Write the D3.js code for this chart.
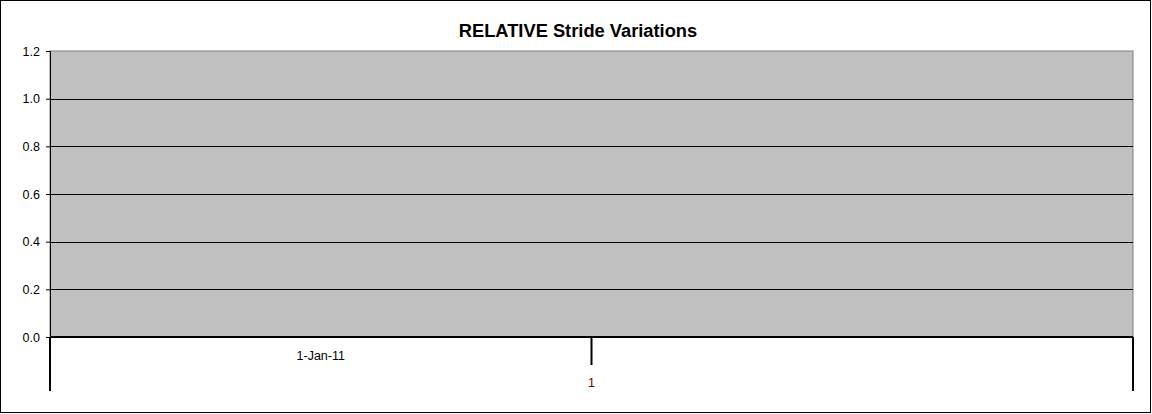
<!DOCTYPE html>
<html>
<head>
<meta charset="utf-8">
<script src="https://cdn.jsdelivr.net/npm/d3@7"></script>
<style>
  body { margin: 0; background: #fff; }
  svg { display: block; font-family: 'Liberation Sans', Arial, sans-serif; }
</style>
</head>
<body>
<div id="chart"></div>
<script>
// chart data
const title = 'RELATIVE Stride Variations';
const categories = ['1-Jan-11', ''];
const groupLabels = ['1'];
const strideValues = [null, null]; // no points plotted in the original
const yTicks = [0, 0.2, 0.4, 0.6, 0.8, 1.0, 1.2];

const W = 1152, H = 414;
const plot = { left: 50, right: 1133, top: 51, bottom: 337 };

const svg = d3.select('#chart')
  .append('svg')
  .attr('width', W)
  .attr('height', H);

// outer chart border
svg.append('rect')
  .attr('x', 0.5).attr('y', 0.5)
  .attr('width', 1150).attr('height', 412)
  .attr('fill', '#fff')
  .attr('stroke', '#000')
  .attr('stroke-width', 1);

const x = d3.scaleBand()
  .domain(categories)
  .range([plot.left, plot.right])
  .padding(0);

const y = d3.scaleLinear()
  .domain([0, 1.2])
  .range([plot.bottom, plot.top]);

// plot area
svg.append('rect')
  .attr('x', plot.left).attr('y', plot.top)
  .attr('width', plot.right - plot.left)
  .attr('height', plot.bottom - plot.top)
  .attr('fill', '#c0c0c0')
  .attr('stroke', '#808080')
  .attr('stroke-width', 1);

// gridlines
svg.append('g')
  .selectAll('line')
  .data(yTicks.filter(d => d > 0 && d < 1.2))
  .enter()
  .append('line')
  .attr('x1', plot.left).attr('x2', plot.right)
  .attr('y1', d => Math.round(y(d)) + 0.5)
  .attr('y2', d => Math.round(y(d)) + 0.5)
  .attr('stroke', '#000')
  .attr('stroke-width', 1);

// y axis
const yAxis = svg.append('g')
  .attr('transform', `translate(${plot.left},0)`)
  .call(d3.axisLeft(y).tickValues(yTicks).tickFormat(d3.format('.1f')).tickSize(4).tickPadding(6));
yAxis.select('.domain').attr('stroke', '#000');
yAxis.selectAll('text')
  .style('font-size', '12.5px')
  .attr('fill', '#000')
  .attr('font-family', "'Liberation Sans', Arial, sans-serif");

// series (empty in the original)
svg.append('g')
  .selectAll('circle')
  .data(categories.map((c, i) => ({ c, v: strideValues[i] })).filter(d => d.v != null))
  .enter()
  .append('circle')
  .attr('cx', d => x(d.c) + x.bandwidth() / 2)
  .attr('cy', d => y(d.v))
  .attr('r', 3)
  .attr('fill', '#000080');

// category axis line
svg.append('line')
  .attr('x1', plot.left).attr('x2', plot.right)
  .attr('y1', plot.bottom).attr('y2', plot.bottom)
  .attr('stroke', '#000')
  .attr('stroke-width', 2);

// inner level dividers
const innerBottom = 365, outerBottom = 391;
svg.append('g')
  .selectAll('line')
  .data(categories.slice(1))
  .enter()
  .append('line')
  .attr('x1', d => x(d)).attr('x2', d => x(d))
  .attr('y1', plot.bottom).attr('y2', innerBottom)
  .attr('stroke', '#000')
  .attr('stroke-width', 2);

// outer level dividers
svg.append('g')
  .selectAll('line')
  .data([plot.left, plot.right])
  .enter()
  .append('line')
  .attr('x1', d => d).attr('x2', d => d)
  .attr('y1', plot.bottom).attr('y2', outerBottom)
  .attr('stroke', '#000')
  .attr('stroke-width', 2);

// inner labels
svg.append('g')
  .selectAll('text')
  .data(categories)
  .enter()
  .append('text')
  .attr('x', d => x(d) + x.bandwidth() / 2)
  .attr('y', 360)
  .attr('text-anchor', 'middle')
  .style('font-size', '12.5px')
  .attr('fill', '#000')
  .text(d => d);

// outer labels
svg.append('g')
  .selectAll('text')
  .data(groupLabels)
  .enter()
  .append('text')
  .attr('x', (plot.left + plot.right) / 2)
  .attr('y', 387)
  .attr('text-anchor', 'middle')
  .style('font-size', '12.5px')
  .attr('fill', '#600010')
  .text(d => d);

// title
svg.append('text')
  .attr('x', 578)
  .attr('y', 37)
  .attr('text-anchor', 'middle')
  .style('font-size', '18.3px')
  .style('font-weight', 'bold')
  .attr('fill', '#000')
  .text(title);
</script>
</body>
</html>
